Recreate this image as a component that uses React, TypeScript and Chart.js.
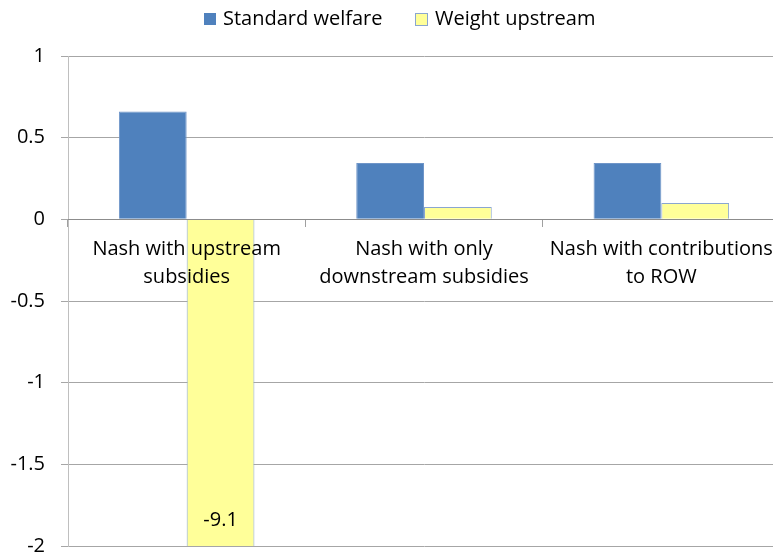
import React, { useEffect, useRef } from "react";
import { Chart, registerables } from "chart.js";

Chart.register(...registerables);

const categories: string[][] = [
  ["Nash with upstream", "subsidies"],
  ["Nash with only", "downstream subsidies"],
  ["Nash with contributions", "to ROW"],
];
const seriesNames = ["Standard welfare", "Weight upstream"];
const standardWelfare = [0.66, 0.345, 0.345];
const weightUpstream = [-9.1, 0.075, 0.1];
const yMin = -2;
const yMax = 1;
const yStep = 0.5;
const clippedValueLabel = "-9.1";

const FONT = "'Open Sans', Lato, sans-serif";
const FS = 20;
const BLUE = "#4f81bd";
const YELLOW = "#ffff99";

const clippedLabelPlugin = {
  id: "clippedLabel",
  afterDatasetsDraw(chart: any) {
    const meta = chart.getDatasetMeta(1);
    const el = meta.data[0];
    if (!el) return;
    const ctx = chart.ctx;
    ctx.save();
    ctx.font = `${FS}px ${FONT}`;
    ctx.fillStyle = "#000";
    ctx.textAlign = "center";
    ctx.textBaseline = "middle";
    ctx.fillText(clippedValueLabel, el.x, chart.chartArea.bottom - 26);
    ctx.restore();
  },
};

export default function App() {
  const ref = useRef<HTMLCanvasElement | null>(null);

  useEffect(() => {
    if (!ref.current) return;
    const chart = new Chart(ref.current, {
      type: "bar",
      data: {
        labels: categories,
        datasets: [
          {
            label: seriesNames[0],
            data: standardWelfare,
            backgroundColor: BLUE,
            borderColor: "#6f95c8",
            borderWidth: 1,
          },
          {
            label: seriesNames[1],
            data: weightUpstream,
            backgroundColor: YELLOW,
            borderColor: "#8aa6d0",
            borderWidth: 1,
          },
        ],
      },
      options: {
        responsive: false,
        animation: false,
        layout: { padding: { top: 56, bottom: 11, left: 0, right: 21 } },
        datasets: {
          bar: { categoryPercentage: 0.571, barPercentage: 1 },
        },
        plugins: {
          legend: { display: false },
          tooltip: { enabled: false },
        },
        scales: {
          x: {
            type: "category",
            position: { y: 0 } as any,
            grid: {
              display: true,
              drawOnChartArea: false,
              drawTicks: true,
              tickLength: 7,
              offset: true,
              color: "#a0a0a0",
            },
            border: { display: true, color: "#8c8c8c", z: 1 },
            ticks: {
              z: 1,
              autoSkip: false,
              maxRotation: 0,
              minRotation: 0,
              padding: 9,
              color: "#000",
              font: { family: FONT, size: FS, lineHeight: 28 / FS },
            },
          },
          y: {
            min: yMin,
            max: yMax,
            afterFit(scale: any) {
              scale.width = 68;
            },
            grid: {
              color: "#a6a6a6",
              tickLength: 7,
              drawTicks: true,
            },
            border: { display: true, color: "#bfbfbf" },
            ticks: {
              stepSize: yStep,
              padding: 16,
              color: "#000",
              font: { family: FONT, size: FS },
              callback: (v: any) => `${Number(v)}`,
            },
          },
        },
      },
      plugins: [clippedLabelPlugin],
    } as any);
    return () => chart.destroy();
  }, []);

  const legendText: React.CSSProperties = {
    position: "absolute",
    top: 5,
    fontFamily: FONT,
    fontSize: FS,
    lineHeight: "26px",
    color: "#000",
    whiteSpace: "nowrap",
  };

  return (
    <div
      style={{
        position: "fixed",
        left: 0,
        top: 0,
        width: 773,
        height: 557,
        overflow: "hidden",
        background: "#fff",
      }}
    >
      <canvas
        ref={ref}
        width={801}
        height={574}
        style={{ display: "block", width: 801, height: 574 }}
      />
      <div
        style={{
          position: "absolute",
          left: 204,
          top: 13,
          width: 12,
          height: 12,
          background: BLUE,
          boxSizing: "border-box",
        }}
      />
      <span style={{ ...legendText, left: 223 }}>{seriesNames[0]}</span>
      <div
        style={{
          position: "absolute",
          left: 415,
          top: 13,
          width: 13,
          height: 13,
          background: YELLOW,
          border: "1px solid #8aa6d0",
          boxSizing: "border-box",
        }}
      />
      <span style={{ ...legendText, left: 435 }}>{seriesNames[1]}</span>
    </div>
  );
}
